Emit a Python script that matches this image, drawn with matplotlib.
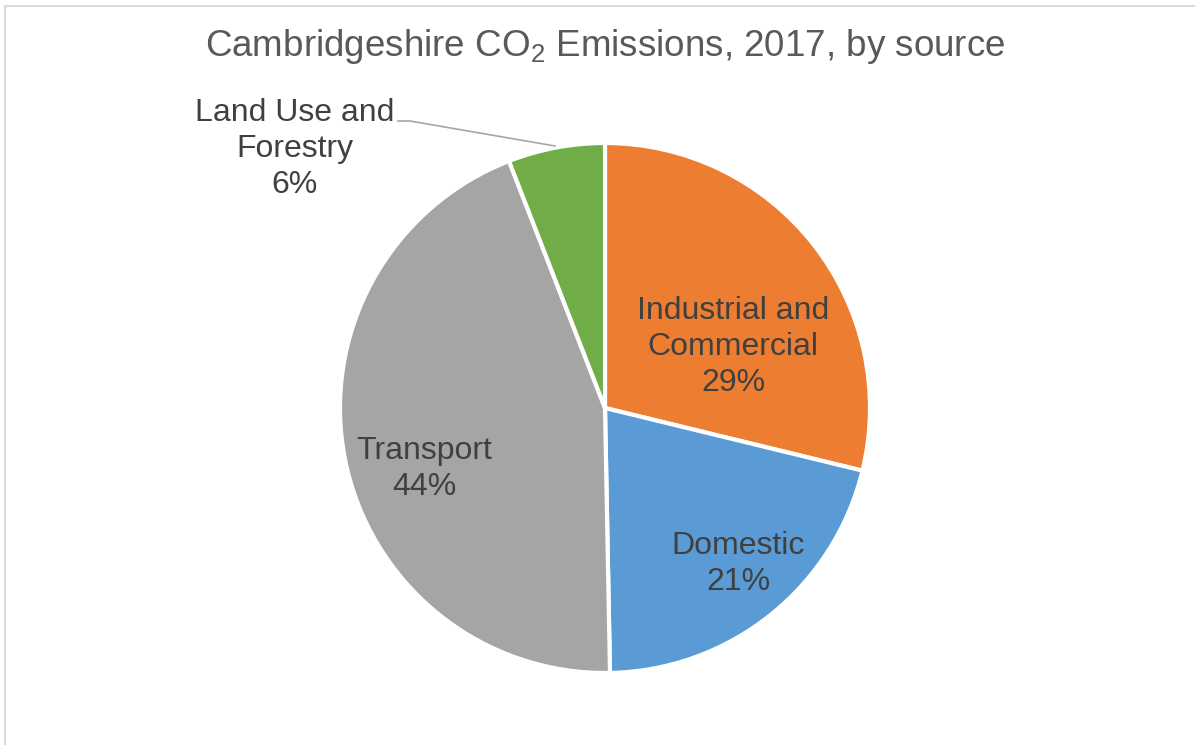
import matplotlib
matplotlib.use('Agg')
import matplotlib.pyplot as plt
from matplotlib.patches import Rectangle

# ── data ──────────────────────────────────────────────────────────────
sources = ['Industrial and\nCommercial', 'Domestic', 'Transport', 'Land Use and\nForestry']
shares = [28.8, 20.9, 44.4, 5.9]
pct_labels = ['29%', '21%', '44%', '6%']
colors = ['#ED7D31', '#5B9BD5', '#A5A5A5', '#70AD47']

TITLE_CLR = '#595959'
LABEL_CLR = '#404040'
FRAME_CLR = '#D9D9D9'

plt.rcParams['font.family'] = ['Liberation Sans', 'DejaVu Sans']
plt.rcParams['mathtext.fontset'] = 'custom'
plt.rcParams['mathtext.rm'] = 'Liberation Sans'
plt.rcParams['mathtext.it'] = 'Liberation Sans'

W, H = 1195, 745
fig = plt.figure(figsize=(W / 100, H / 100), dpi=100)
ax = fig.add_axes([0, 0, 1, 1])

# light frame (left + top visible)
ax.add_patch(Rectangle((5.5, -10), W + 20, H - 5.5 + 10, fill=False,
                       edgecolor=FRAME_CLR, lw=1.5))

# ── pie ───────────────────────────────────────────────────────────────
cx, cy, r = 605, H - 408, 265
ax.pie(shares, colors=colors, startangle=90, counterclock=False,
       center=(cx, cy), radius=r, frame=True,
       wedgeprops=dict(edgecolor='white', linewidth=3))
ax.set_xlim(0, W)
ax.set_ylim(0, H)
ax.set_aspect('equal')
ax.axis('off')

# ── title ─────────────────────────────────────────────────────────────
ax.text(605, H - 47, r'Cambridgeshire CO$_2$ Emissions, 2017, by source',
        ha='center', va='center', fontsize=26.5, color=TITLE_CLR)

# ── data labels ───────────────────────────────────────────────────────
label_pos = [(733, 347), (738, 564), (424, 469), (295, 149)]
for name, pct, (x, y) in zip(sources, pct_labels, label_pos):
    ax.text(x, H - y, f'{name}\n{pct}', ha='center', va='center',
            fontsize=23, color=LABEL_CLR, linespacing=1.28)

# leader line for the small slice
ax.plot([398, 410, 555], [H - 121, H - 121, H - 146], color='#A6A6A6', lw=1.2)

fig.savefig('out.png', dpi=100, facecolor='white')
plt.close()
